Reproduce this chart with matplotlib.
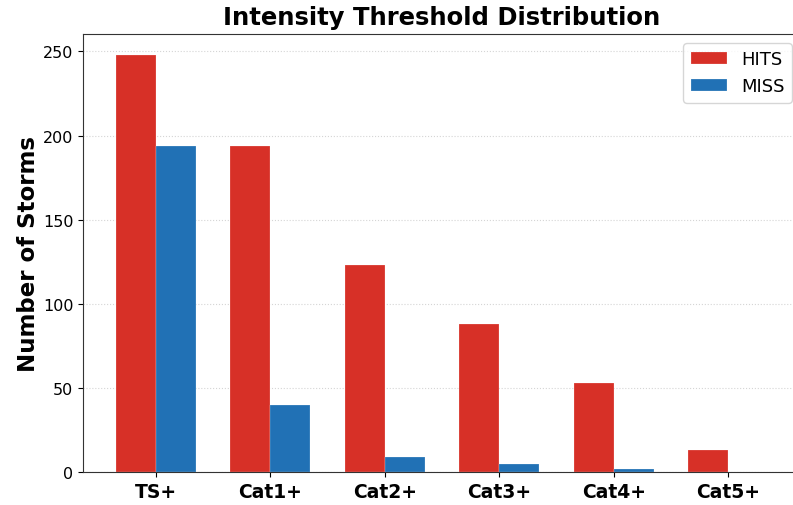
import numpy as np
import matplotlib
matplotlib.use("Agg")
import matplotlib.pyplot as plt

# Data
categories = ["TS+", "Cat1+", "Cat2+", "Cat3+", "Cat4+", "Cat5+"]
hits = [248, 194, 123, 88, 53, 13]
miss = [194, 40, 9, 5, 2, 0]

hit_color = "#d73027"
miss_color = "#2171b5"

fig = plt.figure(figsize=(7.93, 5.06), dpi=100)
ax = fig.add_axes([83 / 793, 33 / 506, 718 / 793, 438 / 506])

x = np.arange(len(categories))
width = 0.35
ax.bar(x - width / 2, hits, width, color=hit_color, edgecolor=(1, 1, 1, 0.5),
       linewidth=0.3, label="HITS")
ax.bar(x + width / 2, miss, width, color=miss_color, edgecolor=(1, 1, 1, 0.5),
       linewidth=0.3, label="MISS")

ax.set_ylim(0, max(hits) * 1.05)
ax.set_xticks(x)
ax.set_xticklabels(categories, fontsize=13.5, fontweight="bold")
ax.tick_params(axis="y", labelsize=11.5)
ax.set_ylabel("Number of Storms", fontsize=16.5, fontweight="bold", labelpad=2)
ax.set_title("Intensity Threshold Distribution", fontsize=17.5,
             fontweight="bold", pad=7)
ax.yaxis.grid(True, linestyle=":", color="#d5d5d5", linewidth=0.8)
ax.set_axisbelow(True)
for s in ax.spines.values():
    s.set_color("#333333")
ax.legend(loc="upper right", fontsize=13)

fig.savefig("out.png", dpi=100)
